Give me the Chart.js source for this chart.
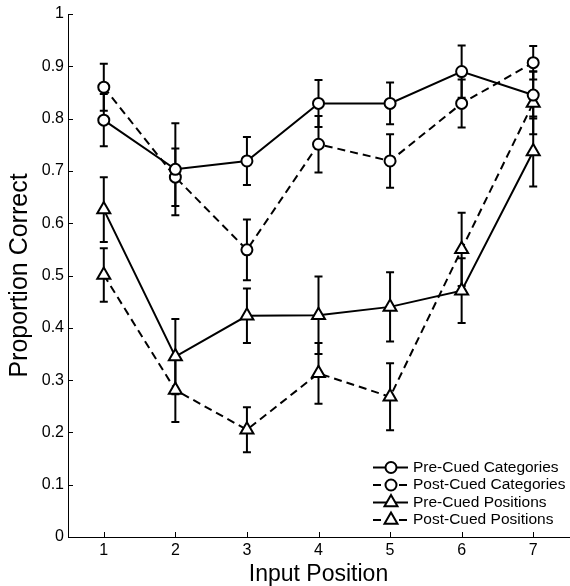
<!DOCTYPE html>
<html>
<head>
<meta charset="utf-8">
<script src="https://cdn.jsdelivr.net/npm/chart.js@4.4.1/dist/chart.umd.min.js"></script>
<style>
  html, body { margin: 0; padding: 0; background: #fff; }
  #wrap { width: 570px; height: 586px; }
</style>
</head>
<body>
<div id="wrap"><canvas id="recallChart" width="570" height="586"></canvas></div>
<script>
const inputPositions = [1, 2, 3, 4, 5, 6, 7];
const yTickValues = [0, 0.1, 0.2, 0.3, 0.4, 0.5, 0.6, 0.7, 0.8, 0.9, 1];

const preCuedCategories = [0.797, 0.703, 0.719, 0.829, 0.829, 0.890, 0.845];
const preCuedCategoriesErr = [0.050, 0.088, 0.046, 0.045, 0.040, 0.050, 0.045];
const postCuedCategories = [0.860, 0.688, 0.549, 0.751, 0.719, 0.829, 0.907];
const postCuedCategoriesErr = [0.045, 0.055, 0.058, 0.054, 0.051, 0.046, 0.032];
const preCuedPositions = [0.626, 0.345, 0.423, 0.424, 0.440, 0.471, 0.737];
const preCuedPositionsErr = [0.062, 0.072, 0.052, 0.074, 0.066, 0.062, 0.067];
const postCuedPositions = [0.501, 0.281, 0.205, 0.313, 0.268, 0.550, 0.830];
const postCuedPositionsErr = [0.051, 0.061, 0.043, 0.058, 0.064, 0.070, 0.060];

const FONT = "'Liberation Sans', Arial, Helvetica, sans-serif";

function series(label, values, errors, marker, dashed) {
  return {
    label: label,
    data: inputPositions.map((x, i) => ({ x: x, y: values[i] })),
    errors: errors,
    borderColor: '#000',
    backgroundColor: '#fff',
    borderWidth: 2,
    borderDash: dashed ? [8, 5] : [],
    pointStyle: marker,
    pointRadius: marker === 'circle' ? 5.5 : 7.5,
    pointBorderWidth: 2,
    pointBackgroundColor: '#fff',
    pointBorderColor: '#000',
    tension: 0,
    fill: false
  };
}

// error bars, drawn under the lines and markers
const errorBars = {
  id: 'errorBars',
  beforeDatasetsDraw(chart) {
    const ctx = chart.ctx;
    const xs = chart.scales.x, ys = chart.scales.y;
    ctx.save();
    ctx.strokeStyle = '#000';
    ctx.lineWidth = 2;
    chart.data.datasets.forEach(ds => {
      ds.data.forEach((p, i) => {
        const px = xs.getPixelForValue(p.x);
        const top = ys.getPixelForValue(p.y + ds.errors[i]);
        const bot = ys.getPixelForValue(p.y - ds.errors[i]);
        ctx.beginPath();
        ctx.moveTo(px, top); ctx.lineTo(px, bot);
        ctx.moveTo(px - 4, top); ctx.lineTo(px + 4, top);
        ctx.moveTo(px - 4, bot); ctx.lineTo(px + 4, bot);
        ctx.stroke();
      });
    });
    ctx.restore();
  }
};

function drawMarker(ctx, style, x, y) {
  ctx.beginPath();
  if (style === 'circle') {
    ctx.arc(x, y, 5.5, 0, Math.PI * 2);
  } else {
    const r = 7.5;
    ctx.moveTo(x, y - r);
    ctx.lineTo(x + Math.sin(Math.PI / 3) * r, y + r / 2);
    ctx.lineTo(x - Math.sin(Math.PI / 3) * r, y + r / 2);
    ctx.closePath();
  }
  ctx.fillStyle = '#fff';
  ctx.fill();
  ctx.setLineDash([]);
  ctx.stroke();
}

// inward tick marks + legend in the lower right corner
const axesAndLegend = {
  id: 'axesAndLegend',
  afterDraw(chart) {
    const ctx = chart.ctx;
    const xs = chart.scales.x, ys = chart.scales.y;
    const area = chart.chartArea;
    ctx.save();
    ctx.strokeStyle = '#000';
    ctx.lineWidth = 1;
    ctx.beginPath();
    yTickValues.forEach(v => {
      const py = Math.round(ys.getPixelForValue(v)) + 0.5;
      ctx.moveTo(area.left, py); ctx.lineTo(area.left + 5, py);
    });
    inputPositions.forEach(v => {
      const px = Math.round(xs.getPixelForValue(v)) + 0.5;
      ctx.moveTo(px, area.bottom); ctx.lineTo(px, area.bottom - 5);
    });
    ctx.stroke();

    ctx.font = '15.5px ' + FONT;
    ctx.textBaseline = 'middle';
    ctx.textAlign = 'left';
    chart.data.datasets.forEach((ds, i) => {
      const y = 467.5 + i * 17.5;
      ctx.strokeStyle = '#000';
      ctx.lineWidth = 2;
      ctx.setLineDash(ds.borderDash);
      ctx.beginPath();
      ctx.moveTo(373, y); ctx.lineTo(408, y);
      ctx.stroke();
      drawMarker(ctx, ds.pointStyle, 391, y);
      ctx.fillStyle = '#000';
      ctx.fillText(ds.label, 413, y);
    });
    ctx.restore();
  }
};

new Chart(document.getElementById('recallChart').getContext('2d'), {
  type: 'line',
  data: {
    datasets: [
      series('Pre-Cued Categories', preCuedCategories, preCuedCategoriesErr, 'circle', false),
      series('Post-Cued Categories', postCuedCategories, postCuedCategoriesErr, 'circle', true),
      series('Pre-Cued Positions', preCuedPositions, preCuedPositionsErr, 'triangle', false),
      series('Post-Cued Positions', postCuedPositions, postCuedPositionsErr, 'triangle', true)
    ]
  },
  options: {
    responsive: false,
    animation: false,
    layout: { autoPadding: false, padding: { top: 14, right: 1, left: 0, bottom: 0 } },
    plugins: {
      legend: { display: false },
      tooltip: { enabled: false }
    },
    scales: {
      x: {
        type: 'linear',
        min: 0.5,
        max: 7.5,
        afterBuildTicks: scale => { scale.ticks = inputPositions.map(v => ({ value: v })); },
        afterFit: scale => {
          scale.height = 49;
          scale.paddingLeft = 0;
          scale.paddingRight = 0;
        },
        grid: { display: false, drawTicks: false },
        border: { display: true, color: '#000', width: 1 },
        ticks: {
          color: '#000',
          padding: 4,
          maxRotation: 0,
          font: { family: FONT, size: 16 },
          callback: v => String(v)
        },
        title: {
          display: true,
          text: 'Input Position',
          color: '#000',
          font: { family: FONT, size: 23 },
          padding: { top: 0, bottom: -2 }
        }
      },
      y: {
        min: 0,
        max: 1,
        afterBuildTicks: scale => { scale.ticks = yTickValues.map(v => ({ value: v })); },
        afterFit: scale => { scale.width = 68; },
        grid: { display: false, drawTicks: false },
        border: { display: true, color: '#000', width: 1 },
        ticks: {
          color: '#000',
          padding: 4,
          font: { family: FONT, size: 16 },
          callback: v => String(+v.toFixed(1))
        },
        title: {
          display: true,
          text: 'Proportion Correct',
          color: '#000',
          font: { family: FONT, size: 25 },
          padding: { top: 5, bottom: 0 }
        }
      }
    }
  },
  plugins: [errorBars, axesAndLegend]
});
</script>
</body>
</html>
